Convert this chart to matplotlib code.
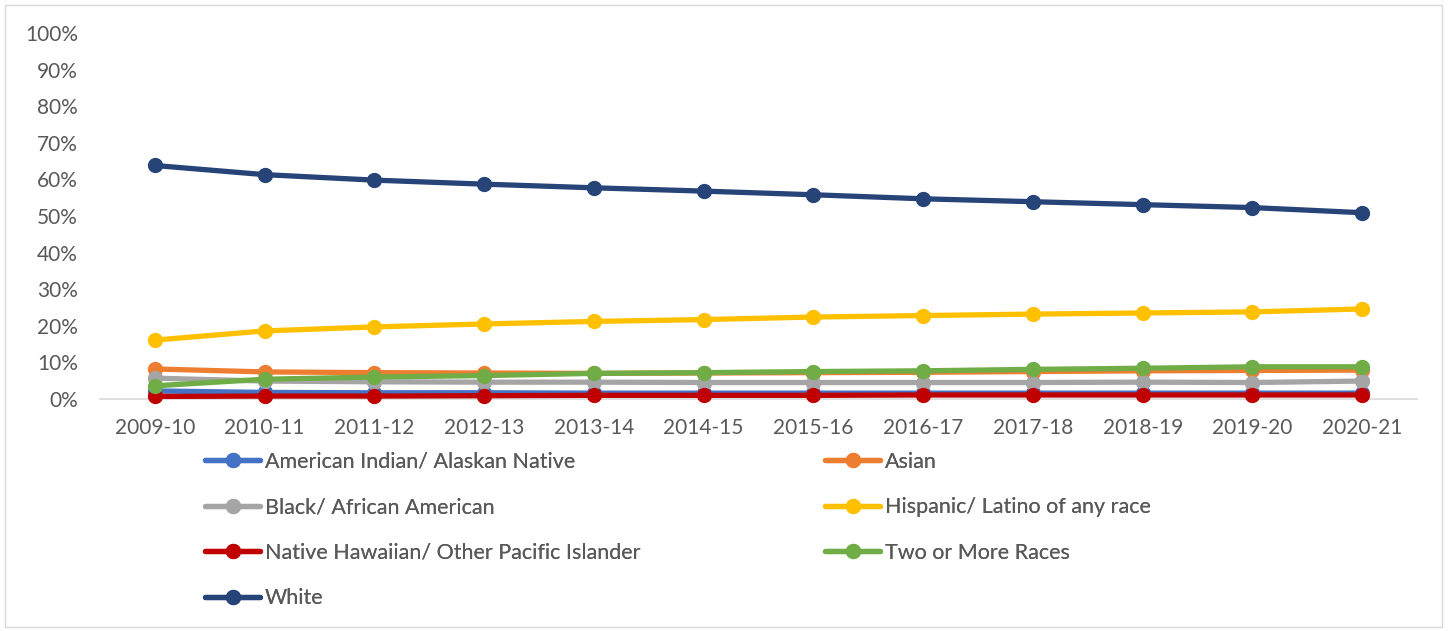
import matplotlib
matplotlib.use('Agg')
import matplotlib.pyplot as plt
from matplotlib.ticker import PercentFormatter
from matplotlib.patches import Rectangle

plt.rcParams['font.family'] = ['Lato', 'DejaVu Sans']

years = ['2009-10', '2010-11', '2011-12', '2012-13', '2013-14', '2014-15',
         '2015-16', '2016-17', '2017-18', '2018-19', '2019-20', '2020-21']

am_indian = [2.2, 1.8, 1.7, 1.7, 1.6, 1.6, 1.6, 1.6, 1.6, 1.6, 1.6, 1.6]
asian = [8.2, 7.4, 7.2, 7.1, 7.0, 7.1, 7.2, 7.3, 7.5, 7.7, 7.8, 7.9]
black = [5.7, 4.9, 4.7, 4.6, 4.6, 4.5, 4.5, 4.5, 4.5, 4.6, 4.5, 4.9]
hispanic = [16.1, 18.6, 19.7, 20.5, 21.2, 21.7, 22.4, 22.8, 23.2, 23.5, 23.8, 24.6]
hawaiian = [0.7, 0.8, 0.8, 0.9, 1.0, 1.0, 1.0, 1.1, 1.1, 1.1, 1.1, 1.1]
two_more = [3.6, 5.4, 6.0, 6.4, 7.0, 7.2, 7.5, 7.7, 8.1, 8.4, 8.8, 8.8]
white = [63.8, 61.3, 59.8, 58.7, 57.7, 56.8, 55.8, 54.7, 53.9, 53.1, 52.3, 50.9]

names = ['American Indian/ Alaskan Native', 'Asian', 'Black/ African American',
         'Hispanic/ Latino of any race', 'Native Hawaiian/ Other Pacific Islander',
         'Two or More Races', 'White']
series = [am_indian, asian, black, hispanic, hawaiian, two_more, white]
colors = ['#4472C4', '#ED7D31', '#A5A5A5', '#FFC000', '#C00000', '#70AD47', '#264478']

W, H = 1448, 631
fig = plt.figure(figsize=(W / 100, H / 100), dpi=100)
fig.patches.append(Rectangle((5 / W, 4 / H), 1437 / W, 622 / H, transform=fig.transFigure,
                             fill=False, edgecolor='#D9D9D9', linewidth=1))

ax = fig.add_axes([100 / W, (H - 399) / H, 1317 / W, 366 / H])
x = list(range(len(years)))
handles = []
for vals, name, c in zip(series, names, colors):
    h, = ax.plot(x, vals, color=c, lw=3.8, marker='o', markersize=10, label=name,
                 clip_on=False, solid_capstyle='round')
    handles.append(h)

ax.set_xlim(-0.5, len(years) - 0.5)
ax.set_ylim(0, 100)
ax.set_yticks(range(0, 101, 10))
ax.yaxis.set_major_formatter(PercentFormatter(decimals=0))
ax.set_xticks(x)
ax.set_xticklabels(years)
ax.tick_params(length=0, labelsize=15, colors='#595959')
ax.tick_params(axis='x', pad=14)
ax.tick_params(axis='y', pad=16)
for s in ['top', 'right', 'left']:
    ax.spines[s].set_visible(False)
ax.spines['bottom'].set_color('#D9D9D9')
ax.spines['bottom'].set_linewidth(1.2)
ax.spines['bottom'].set_zorder(0)

# legend: two columns, filled row by row as in the original
col1 = [0, 2, 4, 6]
col2 = [1, 3, 5]
for idx, xpos in [(col1, 205), (col2, 825)]:
    leg = fig.legend([handles[i] for i in idx], [names[i] for i in idx],
                     loc='upper left', bbox_to_anchor=(xpos / W, (H - 452) / H),
                     frameon=False, fontsize=15.5, handlelength=2.56, handletextpad=0.23,
                     labelspacing=1.18, borderaxespad=0, borderpad=0)
    for t in leg.get_texts():
        t.set_color('#595959')
    fig.add_artist(leg)

fig.savefig('out.png', dpi=100)
